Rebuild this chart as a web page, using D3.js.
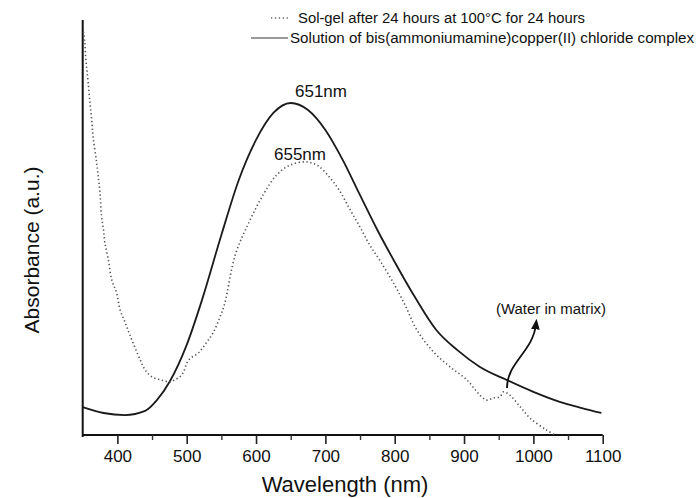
<!DOCTYPE html>
<html lang="en">
<head>
<meta charset="UTF-8">
<script src="https://d3js.org/d3.v7.min.js"></script>
<title>Absorbance spectra</title>
<style>
  body { margin: 0; background: #fff; }
  text { font-family: Arial, "Liberation Sans", sans-serif; fill: #111; }
</style>
</head>
<body>
<div id="chart"></div>
<script>
// wavelength (nm) / absorbance (a.u., 0 = x axis, 1 = top of y axis)
const solidWl = [350, 380, 411, 440, 457, 476, 500, 522, 550, 575, 600, 625, 650, 675, 700, 725, 750, 775, 800, 830, 860, 890, 923, 961, 1000, 1038, 1070, 1098]
const solidAbs = [0.067, 0.053, 0.048, 0.058, 0.084, 0.130, 0.217, 0.325, 0.482, 0.614, 0.711, 0.776, 0.800, 0.783, 0.735, 0.663, 0.578, 0.494, 0.417, 0.330, 0.253, 0.205, 0.164, 0.133, 0.104, 0.080, 0.065, 0.053]

const gelWl = [351, 353, 354, 356, 358, 360.5, 363, 365, 370, 372.5, 375, 377, 380, 382, 387, 392, 399, 404, 411, 418, 433, 440, 450, 462, 476, 483, 493, 503, 517, 529, 538, 548, 555, 570, 590, 610, 630, 650, 673, 690, 707, 720, 736, 750, 764, 780, 800, 815, 832, 856, 880, 904, 923, 933, 942, 952, 957, 966, 981, 995, 1019, 1031]
const gelAbs = [0.972, 0.948, 0.916, 0.880, 0.848, 0.800, 0.759, 0.718, 0.658, 0.622, 0.583, 0.530, 0.494, 0.463, 0.422, 0.373, 0.342, 0.301, 0.272, 0.241, 0.181, 0.157, 0.140, 0.133, 0.128, 0.133, 0.145, 0.181, 0.198, 0.224, 0.246, 0.284, 0.318, 0.434, 0.513, 0.578, 0.627, 0.651, 0.658, 0.648, 0.619, 0.590, 0.542, 0.501, 0.458, 0.417, 0.361, 0.313, 0.253, 0.200, 0.164, 0.133, 0.096, 0.084, 0.089, 0.092, 0.104, 0.096, 0.068, 0.041, 0.012, 0.0]

const majorTicks = [400, 500, 600, 700, 800, 900, 1000, 1100]
const minorTicks = [450, 550, 650, 750, 850, 950, 1050]

const legendLabels = ["Sol-gel after 24 hours at 100\u00B0C for 24 hours", "Solution of bis(ammoniumamine)copper(II) chloride complex"]
const peakLabels = [{wl: 651, text: "651nm"}, {wl: 655, text: "655nm"}]

const W = 696, H = 498
const svg = d3.select("#chart").append("svg").attr("width", W).attr("height", H)

const x = d3.scaleLinear().domain([350, 1100]).range([82.7, 602.7])
const y = d3.scaleLinear().domain([0, 1]).range([435, 20])

// axes
const xAxis = d3.axisBottom(x).tickValues(majorTicks).tickSize(9).tickPadding(6).tickFormat(d3.format("d"))
const gx = svg.append("g").attr("transform", "translate(0,435)").call(xAxis)
gx.select(".domain").attr("stroke", "#111").attr("stroke-width", 2).attr("d", "M" + x(350) + ",0H" + x(1100))
gx.selectAll(".tick line").attr("stroke", "#222").attr("stroke-width", 1.6)
gx.selectAll(".tick text").style("font-size", "17px").attr("fill", "#111").attr("font-family", "Arial, 'Liberation Sans', sans-serif")
const gxm = svg.append("g").attr("transform", "translate(0,435)")
  .call(d3.axisBottom(x).tickValues(minorTicks).tickSize(5).tickFormat(""))
gxm.select(".domain").remove()
gxm.selectAll(".tick line").attr("stroke", "#333").attr("stroke-width", 1.4)

svg.append("line").attr("x1", x(350)).attr("x2", x(350)).attr("y1", y(1)).attr("y2", 437)
  .attr("stroke", "#111").attr("stroke-width", 2)

svg.append("text").attr("x", 345).attr("y", 492).attr("text-anchor", "middle")
  .style("font-size", "22px").text("Wavelength (nm)")
svg.append("text").attr("transform", "translate(39,250) rotate(-90)").attr("text-anchor", "middle")
  .style("font-size", "21px").text("Absorbance (a.u.)")

// curves
const solidLine = d3.line().x(d => x(d[0])).y(d => y(d[1])).curve(d3.curveMonotoneX)
svg.append("path").datum(d3.zip(solidWl, solidAbs)).attr("d", solidLine)
  .attr("fill", "none").attr("stroke", "#1a1a1a").attr("stroke-width", 1.8)

const gelLine = d3.line().x(d => x(d[0])).y(d => y(d[1])).curve(d3.curveCatmullRom)
svg.append("path").datum(d3.zip(gelWl, gelAbs)).attr("d", gelLine)
  .attr("fill", "none").attr("stroke", "#555").attr("stroke-width", 1.6)
  .attr("stroke-dasharray", "1.3,2.6")

// peak labels
svg.append("text").attr("x", 321).attr("y", 97).attr("text-anchor", "middle")
  .style("font-size", "17px").text(peakLabels[0].text)
svg.append("text").attr("x", 300).attr("y", 160).attr("text-anchor", "middle")
  .style("font-size", "17px").text(peakLabels[1].text)

// water annotation
svg.append("defs").append("marker").attr("id", "arr").attr("viewBox", "0 0 10 10")
  .attr("refX", 5).attr("refY", 5).attr("markerWidth", 6).attr("markerHeight", 6).attr("orient", "auto")
  .append("path").attr("d", "M0,1L10,5L0,9z").attr("fill", "#111")
svg.append("path").attr("d", "M507,388 C507,362 533,352 536,324")
  .attr("fill", "none").attr("stroke", "#111").attr("stroke-width", 1.8).attr("marker-end", "url(#arr)")
svg.append("text").attr("x", 551).attr("y", 314).attr("text-anchor", "middle")
  .style("font-size", "14px").attr("textLength", 110).attr("lengthAdjust", "spacingAndGlyphs")
  .text("(Water in matrix)")

// legend
const lg = svg.append("g")
lg.append("line").attr("x1", 271).attr("x2", 289).attr("y1", 18).attr("y2", 18)
  .attr("stroke", "#666").attr("stroke-width", 1.5).attr("stroke-dasharray", "1.3,2.6")
lg.append("line").attr("x1", 251).attr("x2", 288).attr("y1", 38).attr("y2", 38)
  .attr("stroke", "#333").attr("stroke-width", 1)
lg.append("text").attr("x", 298).attr("y", 23).style("font-size", "14px")
  .attr("textLength", 287).attr("lengthAdjust", "spacingAndGlyphs").text(legendLabels[0])
lg.append("text").attr("x", 290).attr("y", 43).style("font-size", "14px")
  .attr("textLength", 404).attr("lengthAdjust", "spacingAndGlyphs").text(legendLabels[1])
</script>
</body>
</html>
